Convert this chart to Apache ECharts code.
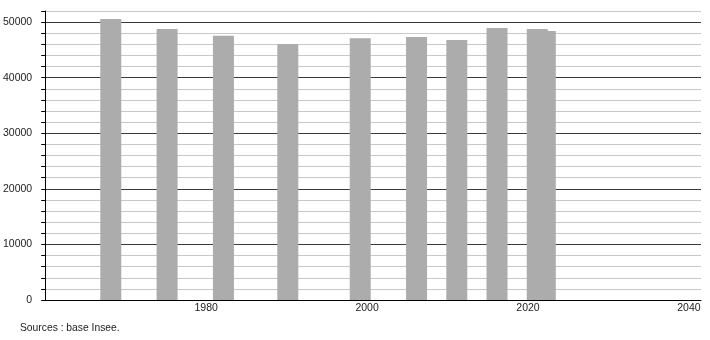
<!DOCTYPE html>
<html><head><meta charset="utf-8">
<script src="https://cdn.jsdelivr.net/npm/echarts@6/dist/echarts.min.js"></script>
<style>html,body{margin:0;padding:0;background:#fff}#c{width:710px;height:340px}</style>
</head><body><div id="c"></div>
<script>
const years = [1968, 1975, 1982, 1990, 1999, 2006, 2011, 2016, 2021, 2022];
const population = [50560, 48760, 47560, 46070, 47090, 47320, 46790, 48940, 48760, 48400];
const xTickLabels = ['1980', '2000', '2020', '2040'];
const yTickLabels = ['0', '10000', '20000', '30000', '40000', '50000'];
const yearOffset = 0.15; // census reference date a little after Jan 1
const sourceText = 'Sources : base Insee.';

const chart = echarts.init(document.getElementById('c'), null, {renderer: 'canvas'});
const font = 'Liberation Sans, Arial, sans-serif';
chart.setOption({
  animation: false,
  grid: {left: 45, right: 9, top: 11, bottom: 40, containLabel: false},
  xAxis: {
    type: 'value', min: 1960, max: 2041.5, interval: 20,
    axisLine: {show: true, lineStyle: {color: '#000', width: 1}},
    axisTick: {show: false},
    splitLine: {show: false},
    axisLabel: {
      showMinLabel: false, showMaxLabel: false, margin: 3,
      color: '#222', fontSize: 10.5, fontFamily: font,
      formatter: v => xTickLabels.includes(String(v)) ? String(v) : ''
    }
  },
  yAxis: {
    type: 'value', min: 0, max: 52000, interval: 2000,
    axisLine: {show: true, lineStyle: {color: '#000', width: 1}},
    axisTick: {show: true, length: 4, lineStyle: {color: '#000'}},
    splitLine: {show: true, lineStyle: {color: ['#3a3a3a', '#c8c8c8', '#c8c8c8', '#c8c8c8', '#c8c8c8'], width: 1}},
    axisLabel: {
      margin: 13, color: '#222', fontSize: 10.5, fontFamily: font,
      formatter: v => yTickLabels.includes(String(v)) ? String(v) : ''
    }
  },
  series: [{
    type: 'bar', barWidth: 21,
    itemStyle: {color: '#acacac'},
    data: years.map((y, i) => [y + yearOffset, population[i]])
  }],
  graphic: [{
    type: 'text', left: 20, top: 323,
    style: {text: sourceText, fill: '#222', font: '10.3px ' + font}
  }]
});
</script></body></html>
